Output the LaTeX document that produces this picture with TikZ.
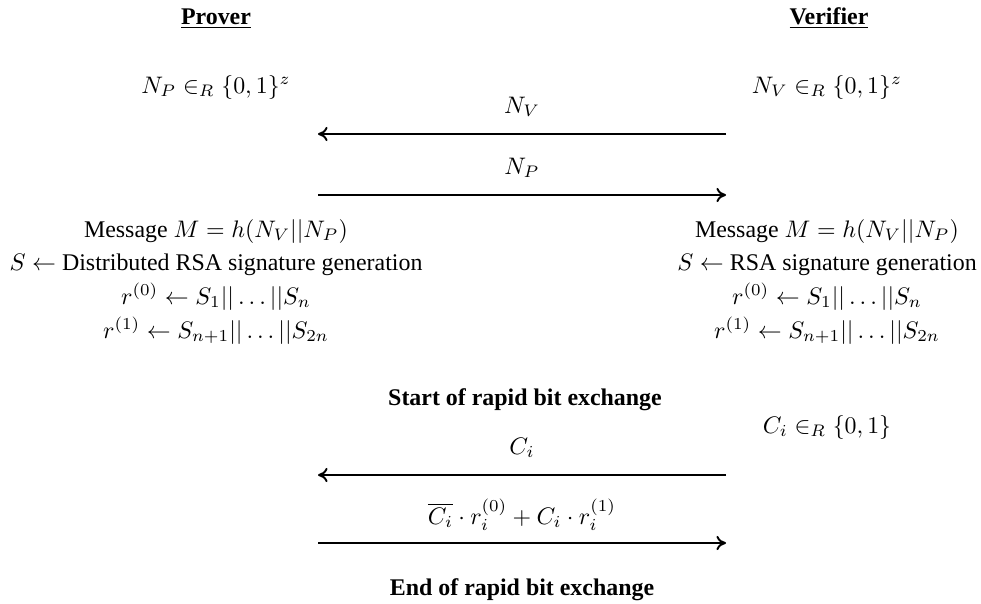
\documentclass[tikz,border=0pt]{standalone}
\usepackage[no-math]{fontspec}
\setmainfont{Liberation Serif}
\usetikzlibrary{arrows.meta}
\begin{document}
\begin{tikzpicture}[x=0.4184pt,y=-0.4184pt,
  txt/.style={inner sep=0pt,anchor=base},
  msg/.style={line width=0.8pt,-{To[length=4pt,width=6pt]}}]
\useasboundingbox (0,0) rectangle (981,603);
% headers
\node[txt] (prover) at (216,24) {\underline{\textbf{Prover}}};
\node[txt] (verifier) at (829,24) {\underline{\textbf{Verifier}}};
\node[txt] (np) at (216,93) {$N_P \in_R \{0,1\}^z$};
\node[txt] (nv) at (827,93) {$N_V \in_R \{0,1\}^z$};
% arrow ends
\coordinate (l1) at (318,134); \coordinate (r1) at (726,134);
\coordinate (l2) at (318,195); \coordinate (r2) at (726,195);
\coordinate (l3) at (318,475); \coordinate (r3) at (726,475);
\coordinate (l4) at (318,543); \coordinate (r4) at (726,543);
\draw[msg] (r1) -- (l1);
\draw[msg] (l2) -- (r2);
\draw[msg] (r3) -- (l3);
\draw[msg] (l4) -- (r4);
\node[txt] (lab1) at (522,113) {$N_V$};
\node[txt] (lab2) at (522,174) {$N_P$};
\node[txt] (lab3) at (522,454) {$C_i$};
\node[txt] (lab4) at (522,524) {$\overline{C_i}\cdot r_i^{(0)} + C_i\cdot r_i^{(1)}$};
% prover block
\node[txt] (pm) at (216,237) {Message $M = h(N_V || N_P)$};
\node[txt] (ps) at (216,270) {$S \leftarrow$ Distributed RSA signature generation};
\node[txt] (pr0) at (216,304) {$r^{(0)} \leftarrow S_1 || \ldots || S_n$};
\node[txt] (pr1) at (216,338) {$r^{(1)} \leftarrow S_{n+1} || \ldots || S_{2n}$};
% verifier block
\node[txt] (vm) at (827,237) {Message $M = h(N_V || N_P)$};
\node[txt] (vs) at (827,270) {$S \leftarrow$ RSA signature generation};
\node[txt] (vr0) at (827,304) {$r^{(0)} \leftarrow S_1 || \ldots || S_n$};
\node[txt] (vr1) at (827,338) {$r^{(1)} \leftarrow S_{n+1} || \ldots || S_{2n}$};
% rapid bit exchange
\node[txt] (start) at (525,405) {\textbf{Start of rapid bit exchange}};
\node[txt] (ci) at (827,433) {$C_i \in_R \{0,1\}$};
\node[txt] (end) at (522,595) {\textbf{End of rapid bit exchange}};
\end{tikzpicture}
\end{document}
